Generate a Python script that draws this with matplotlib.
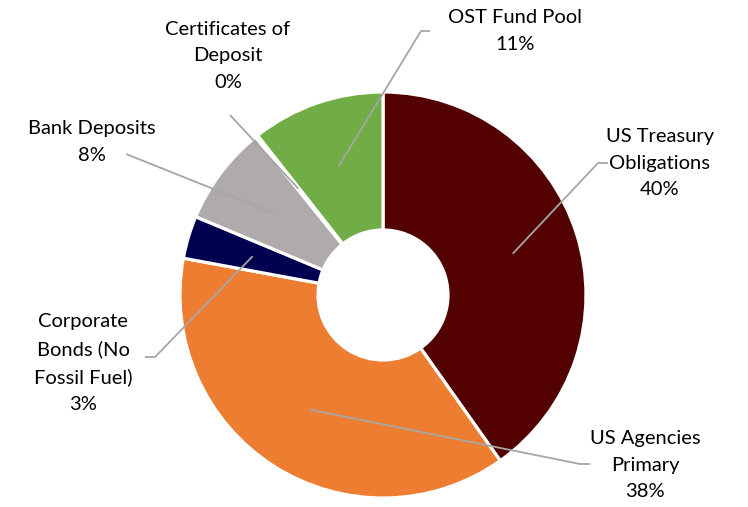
import numpy as np
import matplotlib
matplotlib.use("Agg")
import matplotlib.pyplot as plt

categories = ["US Treasury\nObligations", "US Agencies\nPrimary", "Corporate\nBonds (No\nFossil Fuel)",
              "Bank Deposits", "Certificates of\nDeposit", "OST Fund Pool"]
values = [40.2, 37.7, 3.4, 7.9, 0.2, 10.6]
colors = ["#520000", "#ED7D31", "#000050", "#AFABAB", "#5B9BD5", "#70AD47"]

# label layout (pixel coords, y from top): text center, elbow point, elbow end
label_pos = [(660, 163), (645, 465), (83, 363), (92, 142), (228, 56), (515, 31)]
elbows = [((598, 163), (608, 163)), ((580, 464), (590, 464)), ((155, 357), (145, 357)),
          ((126, 154), (126, 154)), ((230, 115), (230, 115)), ((421, 31), (430, 31))]

plt.rcParams['font.family'] = ['Lato', 'DejaVu Sans']
W, H = 748, 507
fig = plt.figure(figsize=(W / 100, H / 100), dpi=100)
ax = fig.add_axes([0, 0, 1, 1])

cx, cy, R, hole = 383, H - 295, 203, 65
wedges, _ = ax.pie(values, colors=colors, startangle=90, counterclock=False,
                   radius=R, center=(cx, cy), frame=True,
                   wedgeprops=dict(width=R - hole, edgecolor='white', linewidth=2.3))
ax.set_xlim(0, W)
ax.set_ylim(0, H)
ax.set_aspect('equal')
ax.axis('off')

line_color = "#A6A6A6"
for w, cat, v, (tx, ty), (e1, e2) in zip(wedges, categories, values, label_pos, elbows):
    mid = np.deg2rad((w.theta1 + w.theta2) / 2)
    ar = 0.67 * R
    ax_, ay_ = cx + ar * np.cos(mid), cy + ar * np.sin(mid)
    xs = [ax_, e1[0], e2[0]]
    ys = [ay_, H - e1[1], H - e2[1]]
    ax.plot(xs, ys, color=line_color, lw=1.3, solid_capstyle='butt', zorder=5)
    ax.text(tx, H - ty, f"{cat}\n{round(v)}%", ha='center', va='center',
            fontsize=14.5, color='#000000', linespacing=1.68)

fig.savefig("out.png", dpi=100)
